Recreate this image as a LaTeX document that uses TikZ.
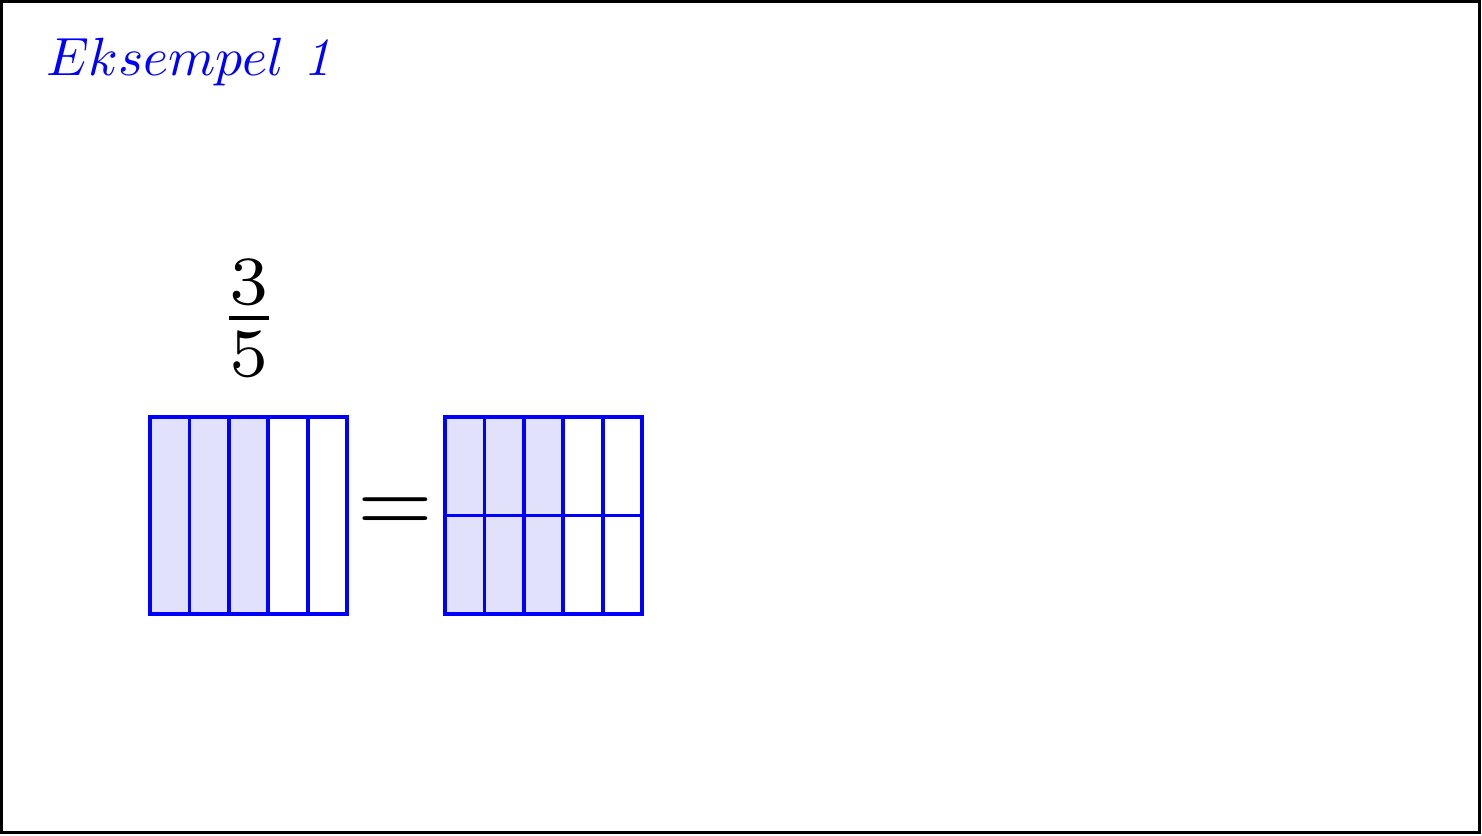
\documentclass[tikz,border=0pt]{standalone}
\definecolor{cellfill}{RGB}{225,225,252}
\tikzset{
  gridline/.style={draw=blue, line width=0.038cm},
  frameline/.style={draw=black, line width=0.03cm},
  lbl/.style={inner sep=0pt, outer sep=0pt}
}
\begin{document}
\begin{tikzpicture}[x=0.01cm,y=-0.01cm]
\useasboundingbox (0,0) rectangle (1482,835);
\draw[frameline] (1.5,1.5) rectangle (1479.5,832.5);
% title
\node[lbl, anchor=base west, text=blue] (title) at (46,75)
  {\scalebox{1.53}{$Eksempel\ \mathit{1}$}};
% fraction
\node[lbl, anchor=base] (frac) at (249,343) {\scalebox{2.8}{$\frac{3}{5}$}};
% equal sign
\node[lbl, anchor=base] (eq) at (395.5,533.3) {\scalebox{2.77}{$=$}};
% left bar: 5 columns, 3 shaded
\fill[cellfill] (150,417) rectangle (268.2,614);
\foreach \i in {1,...,4} {\draw[gridline] ({150+\i*39.4},417) -- ({150+\i*39.4},614);}
\draw[gridline] (150,417) rectangle (347,614);
% right bar: 5 columns x 2 rows, 3 columns shaded
\fill[cellfill] (445,417) rectangle (563.2,614);
\foreach \i in {1,...,4} {\draw[gridline] ({445+\i*39.4},417) -- ({445+\i*39.4},614);}
\draw[gridline] (445,515.5) -- (642,515.5);
\draw[gridline] (445,417) rectangle (642,614);
\end{tikzpicture}
\end{document}
